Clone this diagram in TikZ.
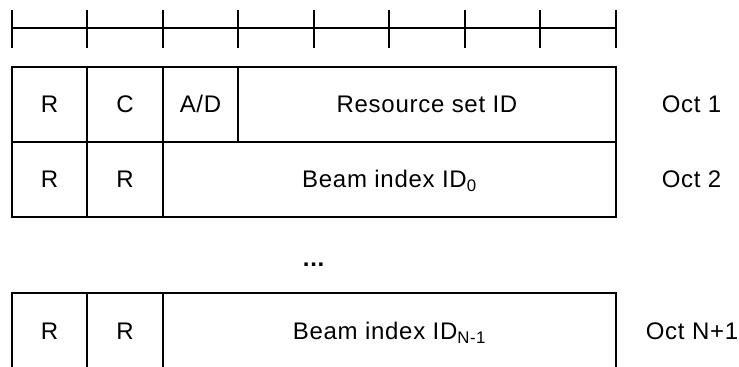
\documentclass[tikz,border=0pt]{standalone}
\usepackage{fontspec}
\setmainfont{Liberation Sans}[LetterSpace=3]
\usepackage{tikz}
\usetikzlibrary{positioning}

\tikzset{
    field/.style={font=\fontsize{18}{21}\selectfont, inner sep=0pt, anchor=base},
    octlabel/.style={field},
}

\begin{document}
\begin{tikzpicture}[x=0.75pt, y=-0.75pt, line width=1.4pt]
                \useasboundingbox (0,0) rectangle (739,367);
                % 1. Bit ruler
                \draw (12,28) -- (616,28);
                \foreach \x in {12,87,163,238,314,389,465,540,616} {
                    \draw (\x,10) -- (\x,48);
                }
                
                % 2. Octet boxes
                \draw (12,67) rectangle (616,217);
                \draw (12,142) -- (616,142);
                \draw (87,67) -- (87,217);
                \draw (163,67) -- (163,217);
                \draw (238,67) -- (238,142);
                \draw (12,293) rectangle (616,369);
                \draw (87,293) -- (87,369);
                \draw (163,293) -- (163,369);
                
                % 3. Field names
                \node[field] (r1) at (49.5,113) {R};
                \node[field] (c1) at (125,113) {C};
                \node[field] (ad) at (200.5,113) {A/D};
                \node[field] (rsid) at (427,113) {Resource set ID};
                \node[field] (r2a) at (49.5,188) {R};
                \node[field] (r2b) at (125,188) {R};
                \node[field] (beam0) at (389.5,188) {Beam index ID\textsubscript{0}};
                \node[field] (dots) at (314,267) {\textbf{...}};
                \node[field] (r3a) at (49.5,339.5) {R};
                \node[field] (r3b) at (125,339.5) {R};
                \node[field] (beamN) at (389.5,339.5) {Beam index ID\textsubscript{N-1}};
                
                % 4. Octet numbers
                \node[octlabel] (oct1) at (691.5,113) {Oct 1};
                \node[octlabel] (oct2) at (691.5,188) {Oct 2};
                \node[octlabel] (octN) at (692,339.5) {Oct N+1};
            \end{tikzpicture}
\end{document}
